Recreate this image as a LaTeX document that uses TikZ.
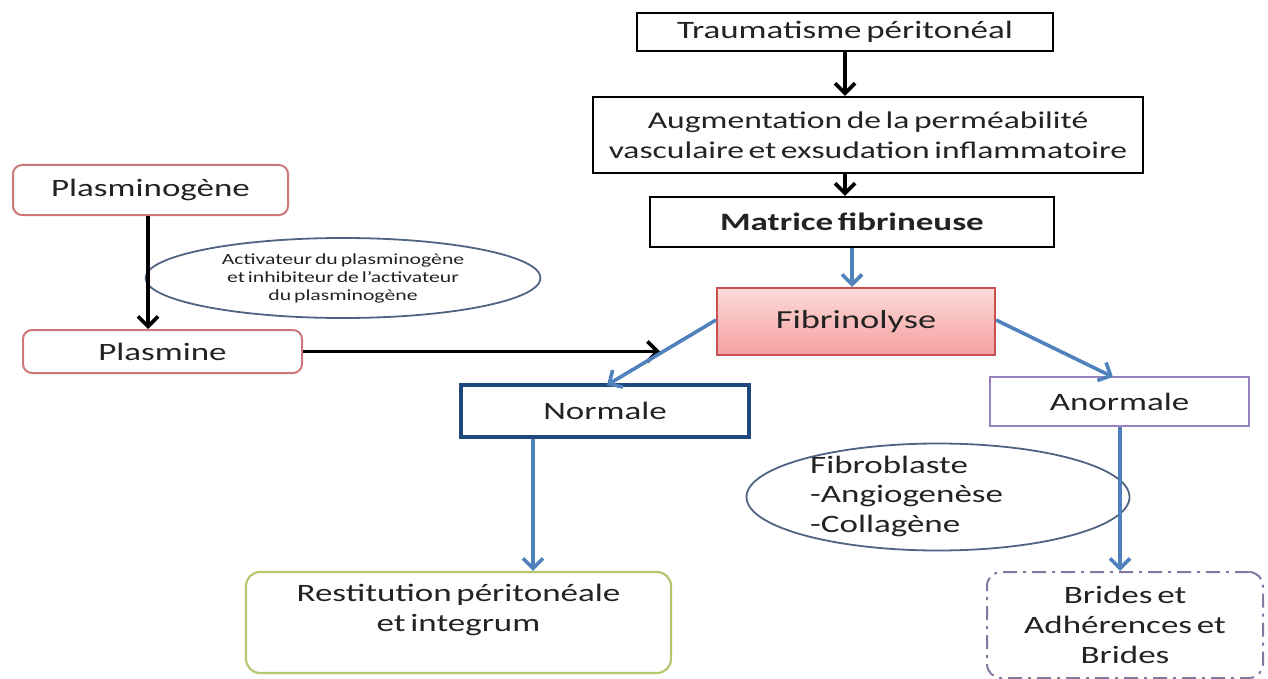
\documentclass[tikz,border=0pt]{standalone}
\usepackage{fontspec}
\setmainfont{Carlito}[FakeStretch=1.4,WordSpace=0.6]
\usetikzlibrary{arrows.meta,shapes.geometric}
\definecolor{txt}{RGB}{35,35,35}
\definecolor{pinkline}{RGB}{205,120,120}
\definecolor{fibline}{RGB}{200,80,80}
\definecolor{fibtop}{RGB}{252,218,218}
\definecolor{fibbot}{RGB}{245,160,160}
\definecolor{navy}{RGB}{31,73,125}
\definecolor{lilac}{RGB}{150,130,190}
\definecolor{olive}{RGB}{180,200,110}
\definecolor{grayviolet}{RGB}{130,120,160}
\definecolor{arrblue}{RGB}{79,129,189}
\definecolor{ellline}{RGB}{80,100,130}
\tikzset{
  x=1pt, y=-1pt,
  every node/.style={text=txt, inner sep=0pt, font=\fontsize{25}{30}\selectfont},
  blackbox/.style={draw=black, line width=2.4pt, rectangle},
  pinkbox/.style={draw=pinkline, line width=2pt, rectangle, rounded corners=9pt},
  oval/.style={draw=ellline, line width=1.8pt, ellipse},
  blackarrow/.style={line width=3.6pt, -{Straight Barb[length=10pt,width=20pt,line width=3.6pt]}},
  bluearrow/.style={draw=arrblue, line width=3.6pt, -{Straight Barb[length=10pt,width=20pt,line width=3.6pt]}},
}
\begin{document}
\begin{tikzpicture}
\useasboundingbox (0,0) rectangle (1268,679);
% top chain
\node[blackbox, minimum width=416pt, minimum height=38pt] (T) at (845,32) {Traumatisme péritonéal};
\node[blackbox, minimum width=550pt, minimum height=76pt, align=center, font=\fontsize{24}{30}\selectfont] (A) at (868,135)
  {Augmentation de la perméabilité\\vasculaire et exsudation inflammatoire};
\node[blackbox, minimum width=404pt, minimum height=50pt, font=\fontsize{25}{30}\selectfont\bfseries] (M) at (852,222) {Matrice fibrineuse};
\node[draw=fibline, line width=2pt, top color=fibtop, bottom color=fibbot, minimum width=278pt, minimum height=67pt, font=\fontsize{26}{30}\selectfont] (F) at (856,321.5) {Fibrinolyse};
% left side
\node[pinkbox, minimum width=275pt, minimum height=50pt] (PG) at (150.5,190) {Plasminogène};
\node[pinkbox, minimum width=279pt, minimum height=43pt] (PL) at (162.5,351.5) {Plasmine};
\node[oval, minimum width=395pt, minimum height=80pt, align=center, font=\fontsize{15.5}{18}\selectfont] (E1) at (343,278)
  {Activateur du plasminogène\\et inhibiteur de l'activateur\\du plasminogène};
\coordinate (PLend) at (660,351.5);
% outcomes
\node[draw=navy, line width=3.2pt, minimum width=288pt, minimum height=52pt] (N) at (605,411) {Normale};
\node[draw=lilac, line width=2.2pt, minimum width=259pt, minimum height=49pt] (AN) at (1119.5,401.5) {Anormale};
\node[draw=olive, line width=2.2pt, rounded corners=14pt, minimum width=425pt, minimum height=101pt, align=center] (R) at (458.5,622.5)
  {Restitution péritonéale\\et integrum\\~};
\node[draw=grayviolet, line width=2pt, rounded corners=14pt, dash pattern=on 14pt off 6pt on 3pt off 6pt, minimum width=276pt, minimum height=106pt, align=center] (BR) at (1125,625)
  {Brides et\\Adhérences et\\Brides};
\node[oval, minimum width=383pt, minimum height=107pt] (E2) at (938,497) {};
\node[anchor=west, align=left, font=\fontsize{25}{29.5}\selectfont] (E2t) at (810,496) {Fibroblaste\\-Angiogenèse\\-Collagène};
% connectors
\draw[blackarrow] (T.south) -- (T.south |- A.north);
\draw[blackarrow] (T.south |- A.south) -- (T.south |- M.north);
\draw[bluearrow] (M.south) -- (M.south |- F.north);
\draw[blackarrow] (PG.south -| 148,0) -- (PL.north -| 148,0);
\draw[blackarrow] (PL.east) -- (PLend);
\draw[bluearrow] (F.west |- 0,320) -- (607,385);
\draw[bluearrow] (F.east |- 0,320) -- (1113,377);
\draw[bluearrow] (N.south -| 533,0) -- (R.north -| 533,0);
\draw[bluearrow] (AN.south -| 1120,0) -- (BR.north -| 1120,0);
\end{tikzpicture}
\end{document}
